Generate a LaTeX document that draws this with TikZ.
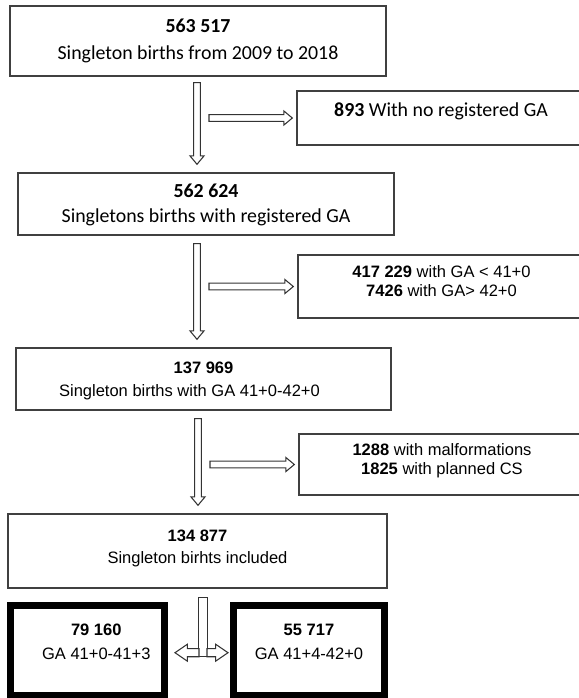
\documentclass[tikz,border=0pt]{standalone}
\usepackage{fontspec}
\setmainfont{Liberation Sans}
\newfontfamily\calfont{Carlito}
\usepackage{tikz}
\usetikzlibrary{calc}

\newcommand\boxtext[2]{\raisebox{#1}[\height][\depth]{\begin{tabular}{@{}c@{}}#2\end{tabular}}}

\tikzset{
  flowbox/.style={draw=black!75, line width=0.8pt, inner sep=0pt},
  finalbox/.style={draw=black, line width=4pt, inner sep=0pt},
  calbox/.style={font=\calfont\fontsize{11.3}{13.6}\selectfont},
  arbox/.style={font=\fontsize{9.4}{11.3}\selectfont},
  hollow/.style n args={3}{draw=black!80, line width=0.6pt, fill=white, to path={
    let \p1=($(\tikztotarget)!#3!(\tikztostart)$) in
    ($(\tikztostart)!#1!90:(\tikztotarget)$) -- ($(\p1)!#1!-90:(\tikztostart)$)
    -- ($(\p1)!#2!-90:(\tikztostart)$) -- (\tikztotarget)
    -- ($(\p1)!#2!90:(\tikztostart)$) -- ($(\p1)!#1!90:(\tikztostart)$)
    -- ($(\tikztostart)!#1!-90:(\tikztotarget)$) -- cycle}},
  thinarrow/.style={hollow={1.9pt}{4pt}{4.8pt}},
  widearrow/.style={hollow={2.3pt}{4.8pt}{7pt}},
  stembar/.style={hollow={2.3pt}{2.3pt}{0pt}}
}

\begin{document}
\begin{tikzpicture}[x=0.02cm, y=-0.02cm]
\useasboundingbox (0,0) rectangle (579,698);

\node[flowbox, calbox, minimum width=7.52cm, minimum height=1.40cm] (total) at (198,41)
  {\boxtext{0pt}{\textbf{563 517}\\[2pt] Singleton births from 2009 to 2018}};
\node[flowbox, calbox, minimum width=5.76cm, minimum height=1.08cm] (noga) at (441,118)
  {\boxtext{3.3pt}{\textbf{893} With no registered GA}};
\node[flowbox, calbox, minimum width=7.52cm, minimum height=1.24cm] (withga) at (206,204)
  {\boxtext{-0.9pt}{\textbf{562 624}\\[0.6pt] Singletons births with registered GA}};
\node[flowbox, arbox, minimum width=5.74cm, minimum height=1.26cm] (outga) at (441.5,286.5)
  {\boxtext{2pt}{\textbf{417 229} with GA < 41+0\\ \textbf{7426} with GA> 42+0}};
\node[flowbox, arbox, minimum width=7.50cm, minimum height=1.24cm] (window) at (203.5,379)
  {\boxtext{-1pt}{\textbf{137 969}\\[1.7pt] Singleton births with GA 41+0-42+0\hspace*{16pt}}};
\node[flowbox, arbox, minimum width=5.72cm, minimum height=1.22cm] (excluded) at (442,464.5)
  {\boxtext{2pt}{\textbf{1288} with malformations\\ \textbf{1825} with planned CS}};
\node[flowbox, arbox, minimum width=7.58cm, minimum height=1.48cm] (included) at (197.5,551)
  {\boxtext{1.4pt}{\textbf{134 877}\\[1.7pt] Singleton birhts included}};
\node[finalbox, arbox, minimum width=3.08cm, minimum height=1.80cm] (early) at (87.5,650.5)
  {\hspace*{10pt}\boxtext{4.2pt}{\textbf{79 160}\\[2.3pt] GA 41+0-41+3}};
\node[finalbox, arbox, minimum width=3.02cm, minimum height=1.80cm] (late) at (309,650.5)
  {\boxtext{4.2pt}{\textbf{55 717}\\[2.3pt] GA 41+4-42+0}};

\coordinate (down1) at ($(total.south)+(-1,6)$);
\coordinate (stop1) at ($(withga.north -| down1)+(0,-8)$);
\coordinate (side1) at ($(down1 |- noga.west)+(12,0)$);
\coordinate (hit1) at ($(noga.west)+(-4,0)$);
\coordinate (down2) at ($(withga.south)+(-9,8)$);
\coordinate (stop2) at ($(window.north -| down2)+(0,-8)$);
\coordinate (side2) at ($(down2 |- outga.west)+(12,0)$);
\coordinate (hit2) at ($(outga.west)+(-4,0)$);
\coordinate (down3) at ($(window.south)+(-5.5,8)$);
\coordinate (stop3) at ($(included.north -| down3)+(0,-8)$);
\coordinate (side3) at ($(down3 |- excluded.west)+(12,0)$);
\coordinate (hit3) at ($(excluded.west)+(-4,0)$);
\coordinate (stem) at ($(included.south)+(5.5,9)$);
\coordinate (fork) at ($(stem)+(0,59)$);
\coordinate (forkl) at ($(fork)+(-4,-4)$);
\coordinate (forkr) at ($(fork)+(4,-4)$);
\coordinate (hitl) at ($(early.east |- forkl)+(7,0)$);
\coordinate (hitr) at ($(late.west |- forkr)+(-2,0)$);

\draw[thinarrow] (down1) to (stop1);
\draw[thinarrow] (side1) to (hit1);
\draw[thinarrow] (down2) to (stop2);
\draw[thinarrow] (side2) to (hit2);
\draw[thinarrow] (down3) to (stop3);
\draw[thinarrow] (side3) to (hit3);
\draw[stembar] (stem) to (fork);
\draw[widearrow] (forkl) to (hitl);
\draw[widearrow] (forkr) to (hitr);

\end{tikzpicture}
\end{document}
